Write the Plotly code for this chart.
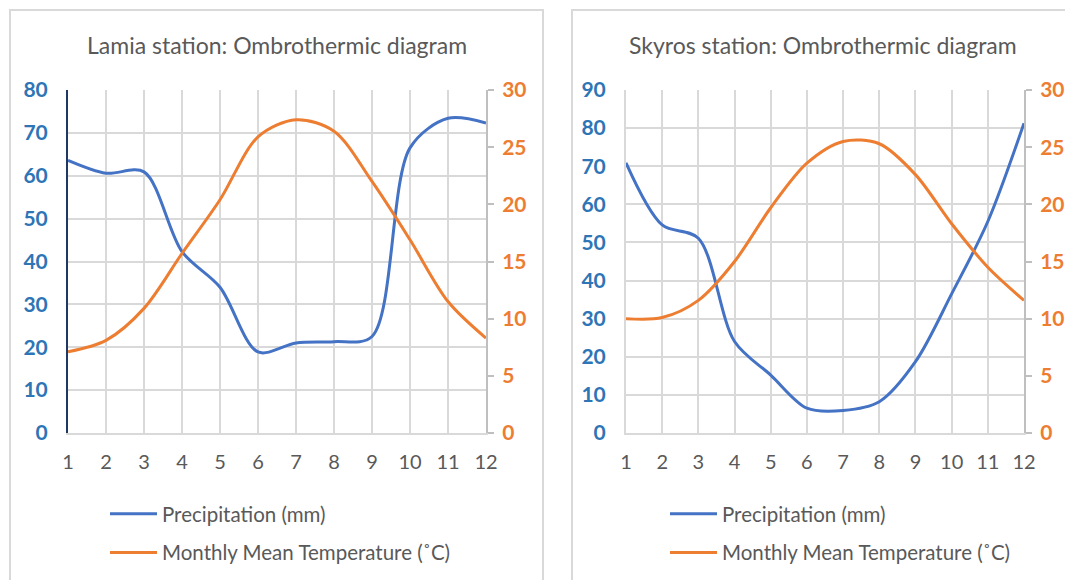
import plotly.graph_objects as go

months = list(range(1, 13))

# Lamia station
lamia_precip = [63.6, 60.6, 60.9, 42.3, 34.0, 18.9, 21.0, 21.3, 22.5, 66.5, 73.4, 72.3]
lamia_temp = [7.1, 8.1, 10.9, 15.7, 20.4, 25.9, 27.4, 26.4, 22.0, 16.9, 11.5, 8.3]

# Skyros station
skyros_precip = [70.9, 54.6, 51.1, 24.0, 15.2, 6.5, 5.9, 8.2, 18.7, 36.5, 55.5, 81.3]
skyros_temp = [10.0, 10.1, 11.6, 15.0, 19.7, 23.6, 25.5, 25.3, 22.6, 18.3, 14.5, 11.6]

BLUE = "#4472c4"
ORANGE = "#ed7d31"
BLUE_TXT = "#2e75b6"
GRAY_TXT = "#595959"
GRID = "#d9d9d9"
FONT = "Lato"

W, H = 1065, 580


def px(x):
    return x / W


def py(y):
    return 1 - y / H


fig = go.Figure()

fig.add_trace(go.Scatter(x=months, y=lamia_precip, name="Precipitation (mm)", mode="lines",
                         line=dict(color=BLUE, width=3, shape="spline", smoothing=0.9),
                         xaxis="x", yaxis="y", legend="legend", legendgroup="a"))
fig.add_trace(go.Scatter(x=months, y=lamia_temp, name="Monthly Mean Temperature (˚C)", mode="lines",
                         line=dict(color=ORANGE, width=3, shape="spline", smoothing=0.9),
                         xaxis="x", yaxis="y2", legend="legend", legendgroup="b"))
fig.add_trace(go.Scatter(x=months, y=skyros_precip, name="Precipitation (mm)", mode="lines",
                         line=dict(color=BLUE, width=3, shape="spline", smoothing=0.9),
                         xaxis="x2", yaxis="y3", legend="legend2", legendgroup="c"))
fig.add_trace(go.Scatter(x=months, y=skyros_temp, name="Monthly Mean Temperature (˚C)", mode="lines",
                         line=dict(color=ORANGE, width=3, shape="spline", smoothing=0.9),
                         xaxis="x2", yaxis="y4", legend="legend2", legendgroup="d"))

ydom = [py(433), py(90)]
xcommon = dict(range=[1, 12], dtick=1, tick0=1, showgrid=True, gridcolor=GRID, gridwidth=2,
               showline=True, linecolor=GRID, linewidth=2, zeroline=False, automargin=False,
               ticks="outside", ticklen=0, ticklabelstandoff=10,
               tickfont=dict(family=FONT, size=20, color=GRAY_TXT))
yleft = dict(dtick=10, tick0=0, showgrid=True, gridcolor=GRID, gridwidth=2, zeroline=False,
             showline=True, linewidth=2, ticks="outside", ticklen=0, ticklabelstandoff=14,
             automargin=False,
             tickfont=dict(family=FONT, size=21, color=BLUE_TXT, weight="bold"))
yright = dict(range=[0, 30], dtick=5, tick0=0, showgrid=False, zeroline=False, side="right",
              showline=True, linecolor="#bfbfbf", linewidth=2, ticks="outside", ticklen=6,
              tickcolor="#bfbfbf", tickwidth=2, ticklabelstandoff=4, automargin=False,
              tickfont=dict(family=FONT, size=21, color=ORANGE, weight="bold"))

legend_common = dict(xanchor="left", yanchor="top", orientation="v", itemwidth=47,
                     tracegroupgap=9, bgcolor="rgba(0,0,0,0)",
                     font=dict(family=FONT, size=20.5, color=GRAY_TXT))

fig.update_layout(
    width=W, height=H,
    margin=dict(l=0, r=0, t=0, b=0, autoexpand=False),
    paper_bgcolor="white", plot_bgcolor="white",
    xaxis=dict(domain=[px(68), px(486)], anchor="y", **xcommon),
    xaxis2=dict(domain=[px(626), px(1024)], anchor="y3", **xcommon),
    yaxis=dict(domain=ydom, range=[0, 80], anchor="x", linecolor="#203864", **yleft),
    yaxis2=dict(overlaying="y", anchor="x", **yright),
    yaxis3=dict(domain=ydom, range=[0, 90], anchor="x2", linecolor=GRID, **yleft),
    yaxis4=dict(overlaying="y3", anchor="x2", **yright),
    legend=dict(x=px(105), y=py(494), **legend_common),
    legend2=dict(x=px(665), y=py(494), **legend_common),
    annotations=[
        dict(text="Lamia station: Ombrothermic diagram", x=px(277), y=py(45), xref="paper", yref="paper",
             showarrow=False, xanchor="center", yanchor="middle",
             font=dict(family=FONT, size=23, color=GRAY_TXT)),
        dict(text="Skyros station: Ombrothermic diagram", x=px(823), y=py(45), xref="paper", yref="paper",
             showarrow=False, xanchor="center", yanchor="middle",
             font=dict(family=FONT, size=23, color=GRAY_TXT)),
    ],
    shapes=[
        dict(type="rect", xref="paper", yref="paper", x0=px(10), x1=px(543), y0=py(600), y1=py(10),
             line=dict(color=GRID, width=2), layer="below"),
        dict(type="rect", xref="paper", yref="paper", x0=px(572), x1=px(1090), y0=py(600), y1=py(10),
             line=dict(color=GRID, width=2), layer="below"),
    ],
)

# page body has an 8px default margin; remove it so the figure sits at the window origin
fig.write_html("out.html", config={"displayModeBar": False},
               post_script="document.body.style.margin='0';")
